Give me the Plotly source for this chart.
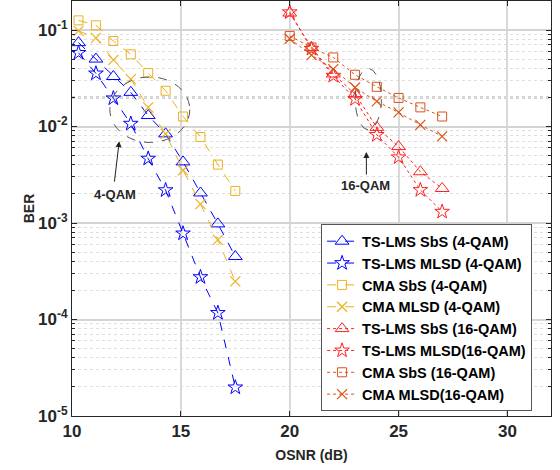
import numpy as np
import plotly.graph_objects as go

# ---------------- data ----------------
osnr_4qam = [10.3, 11.1, 11.9, 12.7, 13.5, 14.3, 15.1, 15.9, 16.7, 17.5]
tslms_sbs_4 = [0.074, 0.050, 0.033, 0.0226, 0.013, 0.0084, 0.0043, 0.00205, 0.00098, 0.00045]
tslms_mlsd_4 = [0.058, 0.0355, 0.0196, 0.0107, 0.00465, 0.00219, 0.00078, 0.000275, 0.000117, 0.0000198]
cma_sbs_4 = [0.126, 0.112, 0.077, 0.056, 0.0358, 0.0235, 0.0127, 0.0078, 0.00403, 0.00215]
cma_mlsd_4 = [0.098, 0.083, 0.049, 0.031, 0.0158, 0.0084, 0.00352, 0.00157, 0.00067, 0.000248]

osnr_16qam = [20, 21, 22, 23, 24, 25, 26, 27]
tslms_sbs_16 = [0.15, 0.066, 0.035, 0.0217, 0.0098, 0.0062, 0.0034, 0.00228]
tslms_mlsd_16 = [0.153, 0.064, 0.0336, 0.0193, 0.0082, 0.0048, 0.0022, 0.00131]
cma_sbs_16 = [0.087, 0.066, 0.052, 0.0344, 0.0258, 0.0198, 0.0158, 0.0127]
cma_mlsd_16 = [0.0813, 0.055, 0.0394, 0.0254, 0.0182, 0.014, 0.0104, 0.0079]

FEC_THRESHOLD = 0.02
x_ticks = [10, 15, 20, 25, 30]
y_ticks = [1e-5, 1e-4, 1e-3, 1e-2, 1e-1]
y_ticktext = ["10<sup>-5</sup>", "10<sup>-4</sup>", "10<sup>-3</sup>", "10<sup>-2</sup>", "10<sup>-1</sup>"]

BLUE = "#0000FF"
YELLOW = "#EDB120"
RED = "#FF2020"
ORANGE = "#D95319"
FONT = "Arial, Liberation Sans, sans-serif"
TXT = "#262626"

fig = go.Figure()


def add(x, y, name, color, symbol, size, dash, lw=1.0, mlw=1.0):
    fig.add_trace(go.Scatter(
        x=x, y=y, name=name, mode="lines+markers",
        line=dict(color=color, width=lw, dash=dash),
        marker=dict(symbol=symbol, size=size, color=color,
                    line=dict(color=color, width=mlw)),
    ))


add(osnr_4qam, tslms_sbs_4, "TS-LMS SbS (4-QAM)", BLUE, "triangle-up-open", 12, "dash")
add(osnr_4qam, tslms_mlsd_4, "TS-LMS MLSD (4-QAM)", BLUE, "star-open", 11, "dash")
add(osnr_4qam, cma_sbs_4, "CMA SbS (4-QAM)", YELLOW, "square-open", 9, "dash")
add(osnr_4qam, cma_mlsd_4, "CMA MLSD (4-QAM)", YELLOW, "x-thin", 10, "dash", mlw=1.2)
add(osnr_16qam, tslms_sbs_16, "TS-LMS SbS (16-QAM)", RED, "triangle-up-open", 12, "dot")
add(osnr_16qam, tslms_mlsd_16, "TS-LMS MLSD(16-QAM)", RED, "star-open", 11, "dot")
add(osnr_16qam, cma_sbs_16, "CMA SbS (16-QAM)", ORANGE, "square-open", 9, "dot")
add(osnr_16qam, cma_mlsd_16, "CMA MLSD(16-QAM)", ORANGE, "x-thin", 10, "dot", mlw=1.2)

# FEC threshold dotted line
fig.add_shape(type="line", xref="paper", x0=0, x1=1, yref="y", y0=FEC_THRESHOLD, y1=FEC_THRESHOLD,
              line=dict(color="#444444", width=1.3, dash="dot"), layer="below")

# ellipses
fig.add_shape(type="circle", xref="x", yref="y", x0=11.74, x1=15.41, y0=0.00684, y1=0.0327,
              line=dict(color="#555555", width=1, dash="dash"))
fig.add_shape(type="circle", xref="x", yref="y", x0=23.01, x1=24.21, y0=0.00925, y1=0.0399,
              line=dict(color="#555555", width=1, dash="dash"))

# labels and arrows (annotation y on log axes in log10 units)
fig.add_annotation(x=11.97, y=np.log10(0.00199), text="<b>4-QAM</b>", showarrow=False,
                   font=dict(family=FONT, size=13, color=TXT))
fig.add_annotation(x=12.17, y=-2.152, ax=-5, ay=42, text="", showarrow=True,
                   arrowhead=2, arrowsize=1.2, arrowwidth=1, arrowcolor="#222222")
fig.add_annotation(x=23.49, y=-2.608, text="<b>16-QAM</b>", showarrow=False,
                   font=dict(family=FONT, size=13, color=TXT))
fig.add_annotation(x=23.52, y=-2.265, ax=0, ay=24, text="", showarrow=True,
                   arrowhead=2, arrowsize=1.2, arrowwidth=1, arrowcolor="#222222")

fig.update_layout(
    width=560, height=470,
    margin=dict(l=72, r=9, t=1, b=54),
    paper_bgcolor="white", plot_bgcolor="white",
    font=dict(family=FONT, color=TXT),
    legend=dict(x=0.52, y=0.462, xanchor="left", yanchor="top",
                bgcolor="white", bordercolor="#555555", borderwidth=1,
                font=dict(family=FONT, size=14.5, color="#000000", weight="bold"),
                tracegroupgap=0),
    showlegend=True,
)

fig.update_xaxes(
    range=[10, 32], tickvals=x_ticks, ticks="inside", ticklen=5, tickcolor="#262626",
    showline=True, linecolor="#262626", linewidth=1, mirror="ticks",
    showgrid=True, gridcolor="#d9d9d9", gridwidth=1.5, automargin=False,
    tickfont=dict(family=FONT, size=17, color=TXT, weight="bold"),
    title=dict(text="<b>OSNR (dB)</b>", font=dict(family=FONT, size=14, color=TXT), standoff=9),
    zeroline=False,
)
fig.update_yaxes(
    type="log", range=[-5, np.log10(0.2)], tickvals=y_ticks, ticktext=y_ticktext,
    ticks="inside", ticklen=5, tickcolor="#262626",
    showline=True, linecolor="#262626", linewidth=1, mirror="ticks", automargin=False,
    showgrid=True, gridcolor="#d4d4d4", gridwidth=2,
    minor=dict(ticks="inside", ticklen=3, tickcolor="#262626", dtick="D1",
               showgrid=True, gridcolor="#dedede", griddash="dot", gridwidth=1),
    tickfont=dict(family=FONT, size=17, color=TXT, weight="bold"),
    title=dict(text="<b>BER</b>", font=dict(family=FONT, size=14, color=TXT), standoff=0),
    zeroline=False,
)

fig.write_html("out.html", config={"displayModeBar": False},
               post_script="document.body.style.margin='0px';document.body.style.padding='0px';")
